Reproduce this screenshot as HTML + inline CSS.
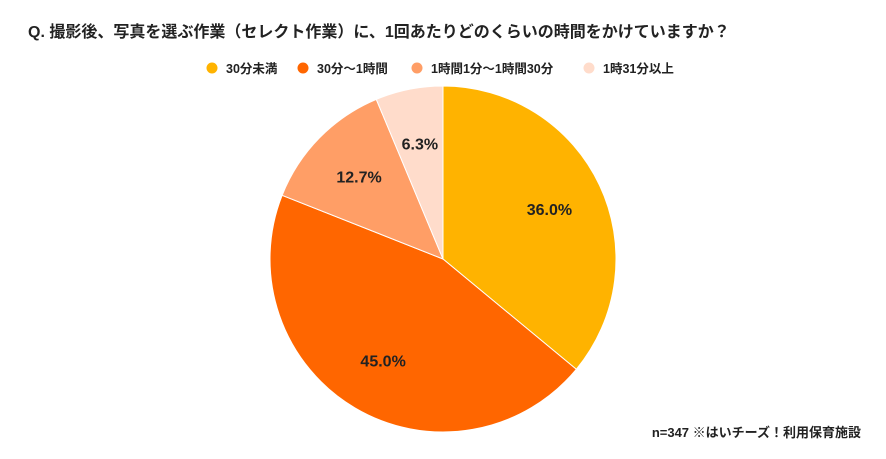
<!DOCTYPE html>
<html><head><meta charset="utf-8"><style>
body{margin:0;background:#fff;width:886px;height:454px;overflow:hidden;font-family:"Liberation Sans","Noto Sans CJK JP",sans-serif;}
svg text{font-family:"Liberation Sans","Noto Sans CJK JP",sans-serif;font-weight:bold;}
</style></head><body>
<svg width="886" height="454">
<text x="28" y="37" font-size="16" fill="#222">Q. 撮影後、写真を選ぶ作業（セレクト作業）に、1回あたりどのくらいの時間をかけていますか？</text>
<g id="legend"></g>
<g id="slices"></g>
<text x="861" y="437" font-size="13" fill="#222" text-anchor="end">n=347  ※はいチーズ！利用保育施設</text>
</svg>
<script>
const categories=["30分未満","30分〜1時間","1時間1分〜1時間30分","1時31分以上"];
const values=[36.0,45.0,12.7,6.3];
const colors=["#FFB300","#FF6600","#FF9E66","#FFDCCB"];
const legendX=[212,303,417,589];
const ns="http://www.w3.org/2000/svg";
const cx=443,cy=259,r=173;
const total=values.reduce((a,b)=>a+b,0);
const sg=document.getElementById('slices');
let a0=0;
values.forEach((v,i)=>{
  const a1=a0+v/total*2*Math.PI;
  const p=(a)=>[cx+r*Math.sin(a),cy-r*Math.cos(a)];
  const [x0,y0]=p(a0),[x1,y1]=p(a1);
  const path=document.createElementNS(ns,'path');
  path.setAttribute('d',`M${cx},${cy}L${x0},${y0}A${r},${r} 0 ${a1-a0>Math.PI?1:0} 1 ${x1},${y1}Z`);
  path.setAttribute('fill',colors[i]);
  path.setAttribute('stroke','#fff');
  path.setAttribute('stroke-width','1');
  
  
  sg.appendChild(path);
  const am=(a0+a1)/2,lr=r*0.68;
  const t=document.createElementNS(ns,'text');
  t.setAttribute('x',cx+lr*Math.sin(am));
  t.setAttribute('y',cy-lr*Math.cos(am)+6);
  t.setAttribute('text-anchor','middle');
  t.setAttribute('font-size','16');
  t.setAttribute('fill','#222');
  t.textContent=v.toFixed(1)+'%';
  
  
  sg.appendChild(t);
  a0=a1;
});
const lg=document.getElementById('legend');
categories.forEach((c,i)=>{
  const d=document.createElementNS(ns,'circle');
  d.setAttribute('cx',legendX[i]);d.setAttribute('cy',68);d.setAttribute('r',5.5);
  d.setAttribute('fill',colors[i]);
  
  
  lg.appendChild(d);
  const t=document.createElementNS(ns,'text');
  t.setAttribute('x',legendX[i]+14);t.setAttribute('y',73);
  t.setAttribute('font-size','12.5');t.setAttribute('fill','#222');
  t.textContent=c;
  
  
  lg.appendChild(t);
});
</script>
</body></html>
